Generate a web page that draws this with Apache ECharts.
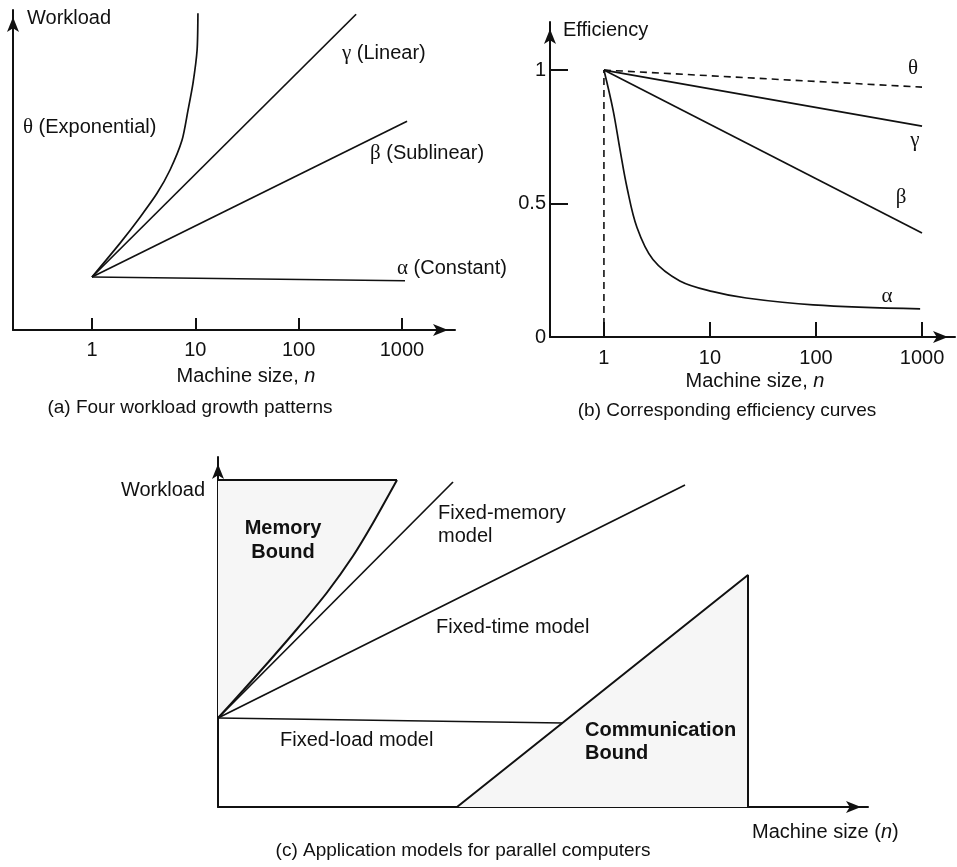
<!DOCTYPE html>
<html>
<head>
<meta charset="utf-8">
<title>Workload growth and application models</title>
<script src="https://cdn.jsdelivr.net/npm/echarts@6/dist/echarts.min.js"></script>
<style>
  html, body { margin: 0; padding: 0; background: #fff; }
  #chart { width: 957px; height: 867px; }
</style>
</head>
<body>
<div id="chart"></div>
<script>
// ---------- (a) workload growth patterns (machine size n, log scale) ----------
const machineTicks = [1, 10, 100, 1000];
const constantN = [1, 1070];
const constantW = [1, 0.93];
const sublinearN = [1, 1120];
const sublinearW = [1, 3.94];
const linearN = [1, 360];
const linearW = [1, 5.96];
const exponentialN = [1, 1.87, 2.92, 4.26, 5.69, 7.43, 8.5, 9.5, 10.4, 10.6];
const exponentialW = [1, 1.64, 2.13, 2.58, 3.02, 3.58, 4.15, 4.66, 5.28, 5.98];

// ---------- (b) corresponding efficiency curves ----------
const effTickValues = [0.5, 1];
const effLabelValues = [0, 0.5, 1];
const effN = [1, 1000];
const effTheta = [1, 0.936];
const effGamma = [1, 0.79];
const effBeta = [1, 0.39];
const effAlphaN = [1, 1.22, 1.42, 1.65, 2.05, 2.9, 5.2, 10.7, 22, 94, 960];
const effAlphaE = [1, 0.85, 0.70, 0.56, 0.41, 0.29, 0.21, 0.17, 0.146, 0.12, 0.105];
const unitMachineN = [1, 1];
const unitMachineE = [0, 1];

// ---------- (c) application models (arbitrary units) ----------
const memoryBoundX = [0, 0.25, 0.5, 0.79, 1.09, 1.35, 1.55, 1.79];
const memoryBoundY = [0.89, 1.165, 1.445, 1.78, 2.145, 2.51, 2.84, 3.27];
const memoryCapX = [1.79, 0];
const memoryCapY = [3.27, 3.27];
const fixedMemoryX = [0, 2.35];
const fixedMemoryY = [0.89, 3.25];
const fixedTimeX = [0, 4.67];
const fixedTimeY = [0.89, 3.22];
const fixedLoadX = [0, 3.45];
const fixedLoadY = [0.89, 0.84];
const commBoundX = [2.39, 5.30, 5.30];
const commBoundY = [0, 2.32, 0];

const FONT = '"Liberation Sans", Arial, Helvetica, sans-serif';
const GREEK = '"Liberation Serif", "DejaVu Serif", serif';
const INK = '#111';
const SHADE = '#f6f6f6';

const zip = (xs, ys) => xs.map((x, i) => [x, ys[i]]);

function curve(name, xs, ys, idx, extra) {
  return Object.assign({
    name, type: 'line', xAxisIndex: idx, yAxisIndex: idx,
    data: zip(xs, ys), symbol: 'none', silent: true, clip: false, z: 5,
    lineStyle: { color: INK, width: 1.7 }
  }, extra || {});
}

function shadedRegion(xs, ys, idx) {
  return {
    type: 'custom', coordinateSystem: 'cartesian2d', xAxisIndex: idx, yAxisIndex: idx,
    data: [[xs[0], ys[0]]], silent: true, z: 1,
    renderItem: (params, api) => ({
      type: 'polygon',
      shape: { points: xs.map((x, i) => api.coord([x, ys[i]])) },
      style: { fill: SHADE, stroke: null }
    })
  };
}

const rich = {
  g: { fontFamily: GREEK, fontSize: 21, fill: INK, color: INK },
  i: { fontFamily: FONT, fontSize: 20, fontStyle: 'italic', fill: INK, color: INK }
};

function label(text, x, y, opt) {
  opt = opt || {};
  return {
    type: 'text', x, y, silent: true, z: 20,
    style: {
      text, fill: INK,
      fontFamily: FONT, fontSize: opt.size || 20, fontWeight: opt.bold ? 'bold' : 'normal',
      textAlign: opt.align || 'left', align: opt.align || 'left',
      textVerticalAlign: 'middle', verticalAlign: 'middle',
      rich
    }
  };
}

function logAxis(grid, min, max, tickLen, labelMargin) {
  return {
    gridIndex: grid, type: 'log', logBase: 10, min, max,
    axisLine: {
      onZero: false,
      lineStyle: { color: INK, width: 2 },
      symbol: ['none', 'arrow'], symbolSize: [9, 15], symbolOffset: [0, -7]
    },
    axisTick: { show: true, inside: true, length: tickLen, customValues: machineTicks, lineStyle: { color: INK, width: 2 } },
    axisLabel: { customValues: machineTicks, margin: labelMargin, color: INK, fontSize: 20, fontFamily: FONT, formatter: v => String(Math.round(v)) },
    splitLine: { show: false }, minorTick: { show: false }, minorSplitLine: { show: false }
  };
}

function plainAxis(grid, min, max) {
  return {
    gridIndex: grid, type: 'value', min, max,
    axisLine: {
      show: true, onZero: false,
      lineStyle: { color: INK, width: 2 },
      symbol: ['none', 'arrow'], symbolSize: [9, 15], symbolOffset: [0, -7]
    },
    axisTick: { show: false }, axisLabel: { show: false }, splitLine: { show: false }
  };
}

const effYAxis = plainAxis(1, 0, 1.18);
effYAxis.axisTick = { show: true, inside: true, length: 18, customValues: effTickValues, lineStyle: { color: INK, width: 2 } };
effYAxis.axisLabel = { show: true, customValues: effLabelValues, margin: 4, color: INK, fontSize: 20, fontFamily: FONT, formatter: v => String(v) };

const option = {
  animation: false,
  backgroundColor: '#fff',
  textStyle: { fontFamily: FONT },
  grid: [
    { left: 13, top: 10, width: 442, height: 320, outerBoundsMode: 'none' },
    { left: 550, top: 22, width: 405, height: 315, outerBoundsMode: 'none' },
    { left: 218, top: 457, width: 650, height: 350, outerBoundsMode: 'none' }
  ],
  xAxis: [
    logAxis(0, 0.172, 3260, 12, 10),
    logAxis(1, 0.31, 2047, 15, 11),
    plainAxis(2, 0, 6.5)
  ],
  yAxis: [
    plainAxis(0, 0, 6.04),
    effYAxis,
    plainAxis(2, 0, 3.5)
  ],
  series: [
    // (a)
    curve('alpha', constantN, constantW, 0),
    curve('beta', sublinearN, sublinearW, 0),
    curve('gamma', linearN, linearW, 0),
    curve('theta', exponentialN, exponentialW, 0, { smooth: 0.25 }),
    // (b)
    curve('theta', effN, effTheta, 1, { lineStyle: { color: INK, width: 1.6, type: [7, 5] } }),
    curve('gamma', effN, effGamma, 1),
    curve('beta', effN, effBeta, 1),
    curve('alpha', effAlphaN, effAlphaE, 1, { smooth: 0.35 }),
    curve('n = 1', unitMachineN, unitMachineE, 1, { lineStyle: { color: INK, width: 1.6, type: [7, 5] } }),
    // (c)
    shadedRegion(memoryBoundX.concat([0]), memoryBoundY.concat([3.27]), 2),
    shadedRegion(commBoundX, commBoundY, 2),
    curve('Memory bound', memoryBoundX, memoryBoundY, 2, { smooth: 0.2, lineStyle: { color: INK, width: 2 } }),
    curve('Memory cap', memoryCapX, memoryCapY, 2, { lineStyle: { color: INK, width: 2 } }),
    curve('Fixed-memory', fixedMemoryX, fixedMemoryY, 2),
    curve('Fixed-time', fixedTimeX, fixedTimeY, 2),
    curve('Fixed-load', fixedLoadX, fixedLoadY, 2),
    curve('Communication bound', commBoundX, commBoundY, 2, { lineStyle: { color: INK, width: 2 } })
  ],
  graphic: [
    // (a)
    label('Workload', 27, 18),
    label('{g|γ} (Linear)', 342, 53),
    label('{g|θ} (Exponential)', 23, 127),
    label('{g|β} (Sublinear)', 370, 153),
    label('{g|α} (Constant)', 397, 268),
    label('Machine size, {i|n}', 246, 376, { align: 'center' }),
    label('(a) Four workload growth patterns', 190, 408, { align: 'center', size: 19 }),
    // (b)
    label('Efficiency', 563, 30),
    label('{g|θ}', 913, 68, { align: 'center' }),
    label('{g|γ}', 915, 140, { align: 'center' }),
    label('{g|β}', 901, 197, { align: 'center' }),
    label('{g|α}', 887, 296, { align: 'center' }),
    label('Machine size, {i|n}', 755, 381, { align: 'center' }),
    label('(b) Corresponding efficiency curves', 727, 411, { align: 'center', size: 19 }),
    // (c)
    label('Workload', 205, 490, { align: 'right' }),
    label('Memory', 283, 528, { align: 'center', bold: true }),
    label('Bound', 283, 552, { align: 'center', bold: true }),
    label('Fixed-memory', 438, 513),
    label('model', 438, 536),
    label('Fixed-time model', 436, 627),
    label('Fixed-load model', 280, 740),
    label('Communication', 585, 730, { bold: true }),
    label('Bound', 585, 753, { bold: true }),
    label('Machine size ({i|n})', 752, 832),
    label('(c) Application models for parallel computers', 463, 851, { align: 'center', size: 19 })
  ]
};

const chart = echarts.init(document.getElementById('chart'), null, { renderer: 'canvas' });
chart.setOption(option);
</script>
</body>
</html>
